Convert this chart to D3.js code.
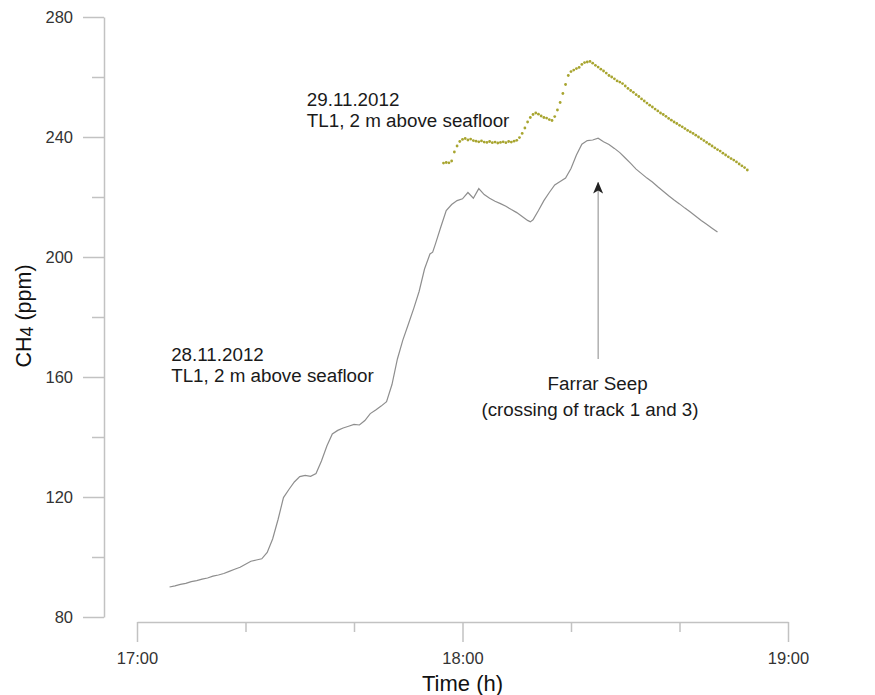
<!DOCTYPE html>
<html lang="en">
<head>
<meta charset="UTF-8">
<title>CH4 time series</title>
<script src="https://cdnjs.cloudflare.com/ajax/libs/d3/7.8.4/d3.min.js"></script>
<style>
  body { margin: 0; background: #fff; }
  text { font-family: "Liberation Sans", Arial, sans-serif; }
</style>
</head>
<body>
<div id="chart"></div>
<script>
// minutes after 17:00, CH4 in ppm
const nov28 = [
  [6,90.0],[7,90.4],[8,90.9],[9,91.2],[10,91.8],[11,92.1],[12,92.6],[13,93.0],[14,93.6],[15,94.0],
  [16,94.5],[17,95.2],[18,95.9],[19,96.6],[20,97.6],[21,98.6],[22,99.0],[23,99.4],[24,101.5],[25,106.0],
  [26,112.5],[27,119.8],[28,122.5],[29,125.0],[30,126.8],[31,127.2],[32,126.9],[33,127.8],[34,132.0],[35,137.0],
  [36,141.0],[37,142.2],[38,143.0],[39,143.6],[40,144.2],[41,144.0],[42,145.5],[43,147.8],[44,149.0],[45,150.3],
  [46,151.8],[47,157.5],[48,166.0],[49,172.3],[50,177.5],[51,182.8],[52,188.5],[53,196.0],[54,201.0],[54.5,201.6],
  [55,204.3],[56,210.0],[57,215.5],[58,217.5],[59,218.8],[60,219.4],[61,221.5],[62,219.6],[63,222.8],[64,220.8],
  [65,219.6],[66,218.6],[67,217.8],[68,216.9],[69,215.8],[70,214.8],[71,213.5],[72,212.2],[72.5,211.7],[73,212.4],
  [74,215.5],[75,218.8],[76,221.5],[77,224.0],[78,225.2],[79,226.3],[80,229.5],[81,234.0],[82,237.6],[83,238.8],
  [84,239.0],[85,239.6],[86,238.4],[87,237.5],[88,236.2],[89,234.8],[90,233.0],[91,231.2],[92,229.3],[93,227.8],
  [94,226.3],[95,225.0],[96,223.4],[97,221.9],[98,220.4],[99,219.0],[100,217.7],[101,216.3],[102,215.0],[103,213.6],
  [104,212.2],[105,210.9],[106,209.6],[107,208.3]
];

const nov29 = [
  [56.5,231.3],[57,231.5],[57.5,231.4],[58,232.0],[58.5,235.0],[59,237.0],[59.5,238.5],[60,239.2],[60.5,239.5],[61,239.0],
  [61.5,239.3],[62,238.8],[62.5,238.6],[63,238.4],[63.5,238.7],[64,238.3],[64.5,238.2],[65,238.5],[65.5,238.1],[66,238.3],
  [66.5,238.0],[67,238.2],[67.5,238.4],[68,238.1],[68.5,238.5],[69,238.3],[69.5,238.6],[70,238.9],[70.5,239.8],[71,241.2],
  [71.5,243.0],[72,245.0],[72.5,246.5],[73,247.5],[73.5,248.0],[74,247.6],[74.5,247.0],[75,246.5],[75.5,246.3],[76,245.8],
  [76.5,245.5],[77,246.8],[77.5,249.0],[78,251.5],[78.5,254.5],[79,257.5],[79.5,260.5],[80,261.8],[80.5,262.3],[81,262.8],
  [81.5,263.2],[82,264.2],[82.5,264.8],[83,265.0],[83.5,265.2],[84,264.6],[84.5,263.9],[85,263.3],[85.5,262.6],[86,262.0],
  [86.5,261.3],[87,260.5],[87.5,260.0],[88,259.4],[88.5,258.7],[89,258.3],[89.5,257.8],[90,257.0],[90.5,256.2],[91,255.5],
  [91.5,254.9],[92,254.1],[92.5,253.5],[93,252.7],[93.5,252.0],[94,251.3],[94.5,250.6],[95,250.0],[95.5,249.3],[96,248.7],
  [96.5,248.0],[97,247.5],[97.5,246.9],[98,246.2],[98.5,245.6],[99,245.0],[99.5,244.5],[100,243.9],[100.5,243.4],[101,242.8],
  [101.5,242.2],[102,241.7],[102.5,241.2],[103,240.6],[103.5,240.0],[104,239.4],[104.5,238.8],[105,238.2],[105.5,237.6],[106,237.0],
  [106.5,236.4],[107,235.8],[107.5,235.3],[108,234.6],[108.5,234.0],[109,233.4],[109.5,232.8],[110,232.3],[110.5,231.7],[111,231.0],
  [111.5,230.4],[112,229.8],[112.5,229.0]
];

const xMajor = [0, 60, 120];
const xMinor = [20, 40, 80, 100];
const xLabels = ["17:00", "18:00", "19:00"];
const yMajor = [80, 120, 160, 200, 240, 280];
const yMinor = [100, 140, 180, 220, 260];

const w = 875, h = 695;
const svg = d3.select("#chart").append("svg").attr("width", w).attr("height", h);

const x = d3.scaleLinear().domain([0, 120]).range([137, 788]);
const y = d3.scaleLinear().domain([80, 280]).range([617, 17]);
const axisColor = "#c2c2c2";

// y axis
const yAx = svg.append("g").attr("transform", "translate(104,0)")
  .call(d3.axisLeft(y).tickValues(yMajor).tickSize(21).tickSizeOuter(0).tickPadding(10));
svg.append("g").attr("transform", "translate(104,0)")
  .call(d3.axisLeft(y).tickValues(yMinor).tickSize(12).tickFormat(""))
  .select(".domain").remove();

// x axis
svg.append("g").attr("transform", "translate(0,622)")
  .call(d3.axisBottom(x).tickValues(xMajor).tickSize(20).tickSizeOuter(0).tickPadding(10)
    .tickFormat((d, i) => xLabels[i]));
svg.append("g").attr("transform", "translate(0,622)")
  .call(d3.axisBottom(x).tickValues(xMinor).tickSize(10).tickFormat(""))
  .select(".domain").remove();

svg.selectAll(".domain, .tick line").attr("stroke", axisColor).attr("stroke-width", 1.5);
svg.selectAll(".tick text").attr("fill", "#333").style("font-size", "16.5px")
  .style("font-family", "'Liberation Sans', Arial, sans-serif");
yAx.selectAll(".tick text").attr("dy", "0.35em");

// axis titles
svg.append("text").attr("x", x(60)).attr("y", 691).attr("text-anchor", "middle")
  .attr("fill", "#111").style("font-size", "22px").text("Time (h)");

const yt = svg.append("text").attr("transform", "translate(31,316) rotate(-90)")
  .attr("text-anchor", "middle").attr("fill", "#111").style("font-size", "21.5px");
yt.append("tspan").text("CH");
yt.append("tspan").attr("baseline-shift", "-12%").style("font-size", "18px").text("4");
yt.append("tspan").text(" (ppm)");

// 28.11 series: continuous line
const line = d3.line().x(d => x(d[0])).y(d => y(d[1]));
svg.append("path").datum(nov28).attr("d", line)
  .attr("fill", "none").attr("stroke", "#8e8e8e").attr("stroke-width", 1.2);

// 29.11 series: dots
svg.append("g").selectAll("circle").data(nov29).enter().append("circle")
  .attr("cx", d => x(d[0])).attr("cy", d => y(d[1])).attr("r", 1.4)
  .attr("fill", "#a8a530");

// arrow to Farrar Seep
svg.append("defs").append("marker").attr("id", "ah")
  .attr("viewBox", "0 0 12 10").attr("refX", 11).attr("refY", 5)
  .attr("markerWidth", 12).attr("markerHeight", 10).attr("markerUnits", "userSpaceOnUse")
  .attr("orient", "auto")
  .append("path").attr("d", "M0,0 L12,5 L0,10 L3,5 Z").attr("fill", "#222");
svg.append("line").attr("x1", x(85.0)).attr("x2", x(85.0))
  .attr("y1", y(166)).attr("y2", y(224.8))
  .attr("stroke", "#888").attr("stroke-width", 1).attr("marker-end", "url(#ah)");

// annotations
const note = (m, v, lines, anchor) => {
  lines.forEach((t, i) => {
    svg.append("text").attr("x", x(m)).attr("y", y(v) + i * 21)
      .attr("text-anchor", anchor).attr("fill", "#1a1a1a").style("font-size", "18.8px").text(t);
  });
};
note(31.3, 250.3, ["29.11.2012", "TL1, 2 m above seafloor"], "start");
note(6.3, 165.3, ["28.11.2012", "TL1, 2 m above seafloor"], "start");
note(84.9, 155.7, ["Farrar Seep"], "middle");
note(83.5, 147.0, ["(crossing of track 1 and 3)"], "middle");
</script>
</body>
</html>
